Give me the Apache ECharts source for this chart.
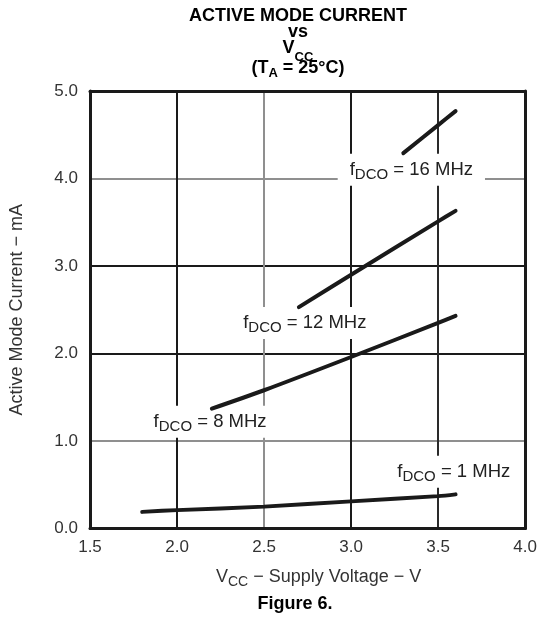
<!DOCTYPE html>
<html>
<head>
<meta charset="utf-8">
<script src="https://cdn.jsdelivr.net/npm/echarts@6/dist/echarts.min.js"></script>
<style>
  html, body { margin: 0; padding: 0; background: #fff; }
  #chart { width: 540px; height: 618px; }
</style>
</head>
<body>
<div id="chart"></div>
<script>
// Axis ticks
const xTicks = [1.5, 2.0, 2.5, 3.0, 3.5, 4.0];
const yTicks = [0.0, 1.0, 2.0, 3.0, 4.0, 5.0];

// Active mode current (mA) vs supply voltage (V), one curve per DCO frequency
const vcc1 = [1.8, 2.0, 2.5, 3.0, 3.5, 3.6];
const cur1 = [0.19, 0.21, 0.25, 0.31, 0.37, 0.39];
const vcc8 = [2.2, 2.5, 3.0, 3.5, 3.6];
const cur8 = [1.37, 1.58, 1.96, 2.35, 2.43];
const vcc12 = [2.7, 3.0, 3.5, 3.6];
const cur12 = [2.53, 2.90, 3.51, 3.63];
const vcc16 = [3.3, 3.5, 3.6];
const cur16 = [4.29, 4.61, 4.77];

// Curve labels: frequency and where each label sits (V, mA)
const freqMHz = ['1', '8', '12', '16'];
const labelVcc = [3.59, 2.19, 2.734, 3.346];
const labelCur = [0.65, 1.22, 2.35, 4.10];

const FONT = '"Liberation Sans", Arial, Helvetica, sans-serif';
const DARK = '#1a1a1a';
const GRAY = '#8f8f8f';
const TEXT = '#222';

function pairs(xs, ys) { return xs.map((x, i) => [x, ys[i]]); }

function curve(name, xs, ys) {
  return {
    name: name,
    type: 'line',
    data: pairs(xs, ys),
    showSymbol: false,
    smooth: 0.3,
    silent: true,
    z: 5,
    lineStyle: { color: DARK, width: 4, cap: 'round' }
  };
}

const labelRich = {
  n: { fontFamily: FONT, fontSize: 18.5, color: TEXT, lineHeight: 24 },
  s: { fontFamily: FONT, fontSize: 15, color: TEXT, lineHeight: 14, padding: [10, 0, 0, 0] }
};

const titleRich = {
  b: { fontFamily: FONT, fontSize: 18, fontWeight: 'bold', color: '#000', lineHeight: 20 },
  vs: { fontFamily: FONT, fontSize: 13, fontWeight: 'bold', color: '#000', lineHeight: 12, padding: [18, 0, 0, 0] },
  ts: { fontFamily: FONT, fontSize: 13, fontWeight: 'bold', color: '#000', lineHeight: 12, padding: [10, 0, 0, 0] }
};

function titleText(text, cy) {
  return {
    type: 'text', x: 298, y: cy, silent: true,
    style: { text: text, rich: titleRich, align: 'center', verticalAlign: 'middle' }
  };
}

const chart = echarts.init(document.getElementById('chart'), null, { renderer: 'canvas' });

chart.setOption({
  backgroundColor: '#fff',
  animation: false,
  grid: { left: 90, right: 11, top: 91, bottom: 89.5, containLabel: false },
  xAxis: [{
    type: 'value',
    min: xTicks[0], max: xTicks[xTicks.length - 1], interval: 0.5,
    axisLine: { show: true, onZero: false, lineStyle: { color: DARK, width: 3 } },
    axisTick: { show: false },
    axisLabel: {
      margin: 10, fontFamily: FONT, fontSize: 17, color: '#333',
      formatter: v => v.toFixed(1)
    },
    splitLine: {
      show: true,
      lineStyle: { width: 2, color: [DARK, DARK, GRAY, DARK, '#2a2a2a', DARK] }
    },
    name: '{n|V}{s|CC}{n| − Supply Voltage − V}',
    nameLocation: 'middle',
    nameGap: 38,
    nameTextStyle: {
      padding: [0, 0, 0, 22],
      rich: {
        n: { fontFamily: FONT, fontSize: 18, color: '#333', lineHeight: 22 },
        s: { fontFamily: FONT, fontSize: 14, color: '#333', lineHeight: 12, padding: [10, 0, 0, 0] }
      }
    }
  }, {
    type: 'value', position: 'top',
    min: xTicks[0], max: xTicks[xTicks.length - 1], interval: 0.5,
    axisLine: { show: true, onZero: false, lineStyle: { color: DARK, width: 3 } },
    axisTick: { show: false }, axisLabel: { show: false }, splitLine: { show: false }
  }],
  yAxis: [{
    type: 'value',
    min: yTicks[0], max: yTicks[yTicks.length - 1], interval: 1,
    axisLine: { show: true, onZero: false, lineStyle: { color: DARK, width: 3 } },
    axisTick: { show: false },
    axisLabel: {
      margin: 12, fontFamily: FONT, fontSize: 17, color: '#333',
      formatter: v => v.toFixed(1)
    },
    splitLine: {
      show: true,
      lineStyle: { width: 2, color: [DARK, GRAY, DARK, DARK, GRAY, DARK] }
    },
    name: 'Active Mode Current − mA',
    nameLocation: 'middle',
    nameGap: 64,
    nameTextStyle: { fontFamily: FONT, fontSize: 18, color: '#333' }
  }, {
    type: 'value', position: 'right',
    min: yTicks[0], max: yTicks[yTicks.length - 1], interval: 1,
    axisLine: { show: true, onZero: false, lineStyle: { color: DARK, width: 3 } },
    axisTick: { show: false }, axisLabel: { show: false }, splitLine: { show: false }
  }],
  graphic: [
    titleText('{b|ACTIVE MODE CURRENT}', 16.5),
    titleText('{b|vs}', 32),
    titleText('{b|V}{vs|CC}', 48.5),
    titleText('{b|(T}{ts|A}{b| = 25°C)}', 68.5),
    {
      type: 'text', x: 295, y: 604, silent: true,
      style: {
        text: 'Figure 6.', fontFamily: FONT, fontSize: 18, fontWeight: 'bold',
        fill: '#000', align: 'center', verticalAlign: 'middle'
      }
    }
  ],
  series: [
    curve('1 MHz', vcc1, cur1),
    curve('8 MHz', vcc8, cur8),
    curve('12 MHz', vcc12, cur12),
    curve('16 MHz', vcc16, cur16),
    {
      name: 'labels',
      type: 'scatter',
      symbolSize: 0,
      silent: true,
      z: 4,
      itemStyle: { opacity: 1 },
      data: labelVcc.map((v, i) => [v, labelCur[i], freqMHz[i]]),
      label: {
        show: true,
        position: 'inside',
        color: TEXT,
        backgroundColor: '#fff',
        padding: [4, 12, 4, 12],
        formatter: p => '{n|f}{s|DCO}{n| = ' + p.value[2] + ' MHz}',
        rich: labelRich
      }
    }
  ]
});
</script>
</body>
</html>
